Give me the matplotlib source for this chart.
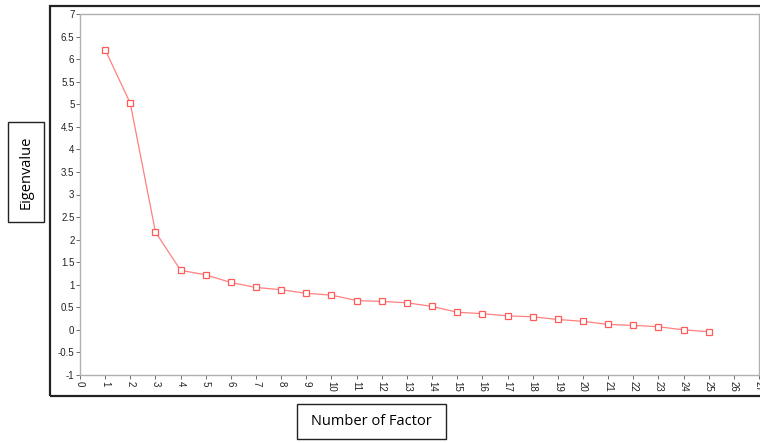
import numpy as np
import matplotlib
matplotlib.use("Agg")
from matplotlib import pyplot as plt
from matplotlib.patches import Rectangle

# scree plot values
factors = list(range(1, 26))
eigenvalues = [6.21, 5.02, 2.17, 1.32, 1.22, 1.05, 0.94, 0.89, 0.81, 0.77,
               0.65, 0.63, 0.60, 0.52, 0.39, 0.36, 0.31, 0.29, 0.23, 0.19,
               0.12, 0.10, 0.07, 0.00, -0.04]
y_ticks = [-1, -0.5, 0, 0.5, 1, 1.5, 2, 2.5, 3, 3.5, 4, 4.5, 5, 5.5, 6, 6.5, 7]
x_ticks = list(range(0, 28))

W, H = 760, 443
fig = plt.figure(figsize=(W / 100, H / 100), dpi=100)

# axes in pixel coords: left 80, right 759, top 14, bottom 375
ax = fig.add_axes([80 / W, 1 - 375 / H, (759 - 80) / W, (375 - 14) / H])
ax.plot(factors, eigenvalues, color="#ff8080", lw=0.9, marker="s", ms=4.2,
        mfc="white", mec="#ff5a5a", mew=0.9)

ax.set_xlim(0, 27)
ax.set_ylim(-1, 7)
ax.set_xticks(x_ticks)
ax.set_xticklabels([str(t) for t in x_ticks], rotation=-90)
ax.set_yticks(y_ticks)
ax.set_yticklabels([f"{t:g}" for t in y_ticks])
ax.tick_params(labelsize=7, length=3, width=0.6, color="#555555", pad=1,
               labelcolor="#222222")
for s in ax.spines.values():
    s.set_color("#b0b0b0")
    s.set_linewidth(1.0)
ax.spines["top"].set_linestyle((0, (1, 1)))
ax.spines["bottom"].set_linestyle((0, (1, 1)))
ax.spines["left"].set_linestyle((0, (1, 1)))
for lab in ax.get_xticklabels() + ax.get_yticklabels():
    lab.set_family(["Liberation Sans", "DejaVu Sans"])

# outer frame around the chart
fig.patches.append(Rectangle((50 / W, 1 - 396 / H), (770 - 50) / W, (396 - 6) / H,
                             transform=fig.transFigure, fill=False,
                             edgecolor="#222222", lw=1.6))

# boxed axis titles
fig.patches.append(Rectangle((8 / W, 1 - 222 / H), 36 / W, 100 / H,
                             transform=fig.transFigure, fill=False,
                             edgecolor="#222222", lw=1.0))
fig.text(26 / W, 1 - 172 / H, "Eigenvalue", rotation=90, ha="center", va="center",
         fontsize=10.5, family=["Open Sans", "DejaVu Sans"])

fig.patches.append(Rectangle((297 / W, 1 - 439 / H), 149 / W, 35 / H,
                             transform=fig.transFigure, fill=False,
                             edgecolor="#222222", lw=1.0))
fig.text(371.5 / W, 1 - 421.5 / H, "Number of Factor", ha="center", va="center",
         fontsize=10.5, family=["Open Sans", "DejaVu Sans"])

fig.savefig("out.png", dpi=100)
